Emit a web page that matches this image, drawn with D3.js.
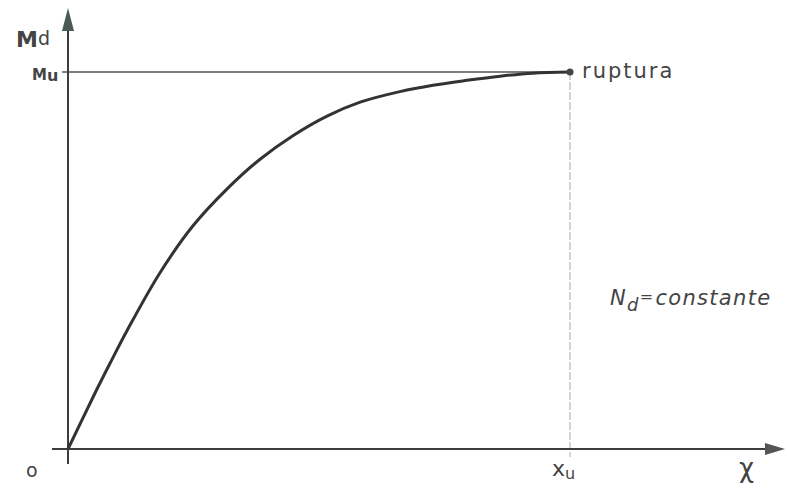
<!DOCTYPE html>
<html><head><meta charset="utf-8">
<script src="https://cdn.jsdelivr.net/npm/d3@7"></script>
<style>html,body{margin:0;padding:0;background:#fff;} svg{display:block;}</style>
</head><body>
<svg id="c" width="787" height="491"></svg>
<script>
// curvature (x / x_u) and moment (M_d / M_u)
const curvature = [0, 0.050, 0.084, 0.118, 0.183, 0.249, 0.317, 0.382, 0.448, 0.516, 0.582, 0.661, 0.727, 0.795, 0.861, 0.926, 1.0];
const moment    = [0, 0.138, 0.228, 0.315, 0.467, 0.592, 0.690, 0.768, 0.831, 0.883, 0.920, 0.948, 0.965, 0.978, 0.989, 0.997, 1.0];
const xTickLabels = ["o", "χ", "u"];
const yTickLabels = ["M", "u"];

const svg = d3.select("#c");
const x = d3.scaleLinear().domain([0, 1]).range([68, 570]);
const y = d3.scaleLinear().domain([0, 1]).range([449, 72]);
const ink = "#3d3d3d";
const font = "'DejaVu Sans', sans-serif";

// Mu horizontal line
svg.append("line").attr("x1", x(0) - 6).attr("x2", x(1)).attr("y1", y(1)).attr("y2", y(1))
  .attr("stroke", "#555").attr("stroke-width", 1.5);
// x_u vertical line
svg.append("line").attr("x1", x(1)).attr("x2", x(1)).attr("y1", y(1)).attr("y2", y(0) + 8)
  .attr("stroke", "#aaa").attr("stroke-width", 1).attr("stroke-dasharray", "8,2");

// axes
svg.append("line").attr("x1", x(0) - 16).attr("x2", 770).attr("y1", y(0)).attr("y2", y(0))
  .attr("stroke", ink).attr("stroke-width", 2);
svg.append("line").attr("x1", x(0)).attr("x2", x(0)).attr("y1", y(0) + 15).attr("y2", 25)
  .attr("stroke", ink).attr("stroke-width", 2);
// arrows
svg.append("path").attr("d", `M${x(0)},8 L${x(0)-6},31 L${x(0)+6},31 Z`).attr("fill", "#4a5a55");
svg.append("path").attr("d", `M785,${y(0)} L765,${y(0)-6} L765,${y(0)+6} Z`).attr("fill", "#555");

// curve
const pts = curvature.map((c, i) => [c, moment[i]]);
svg.append("path").datum(pts)
  .attr("d", d3.line().x(d => x(d[0])).y(d => y(d[1])).curve(d3.curveCatmullRom.alpha(0.5)))
  .attr("fill", "none").attr("stroke", "#333").attr("stroke-width", 3);
svg.append("circle").attr("cx", x(1)).attr("cy", y(1)).attr("r", 3.5).attr("fill", "#444");

// labels
const t1 = svg.append("text").attr("x", 16).attr("y", 47).attr("font-family", font).attr("font-weight", "bold")
  .attr("fill", "#444").attr("font-size", 22);
t1.append("tspan").text("M");
t1.append("tspan").attr("font-size", 19).attr("font-weight", "normal").attr("dy", -2).text("d");

const t2 = svg.append("text").attr("x", 32).attr("y", 80).attr("font-family", font).attr("font-weight", "bold")
  .attr("fill", "#444").attr("font-size", 15);
t2.append("tspan").text(yTickLabels[0]);
t2.append("tspan").attr("font-size", 16).attr("dy", 1).text(yTickLabels[1]);

svg.append("text").attr("x", 26).attr("y", 477).attr("font-family", font).attr("fill", "#444")
  .attr("font-size", 19).text(xTickLabels[0]);

const t3 = svg.append("text").attr("x", 552).attr("y", 476).attr("font-family", font).attr("fill", "#444")
  .attr("font-size", 22);
t3.append("tspan").text("x");
t3.append("tspan").attr("font-size", 16).attr("dy", 3).text(xTickLabels[2]);

svg.append("text").attr("x", 739).attr("y", 477).attr("font-family", font).attr("fill", "#444")
  .attr("font-size", 26).text("χ");

svg.append("text").attr("x", 582).attr("y", 78).attr("font-family", font).attr("fill", "#444")
  .attr("font-size", 21).attr("letter-spacing", 2).text("ruptura");

const t4 = svg.append("text").attr("x", 610).attr("y", 305).attr("font-family", font).attr("fill", "#444")
  .attr("font-size", 21).attr("font-style", "italic").attr("letter-spacing", 1.3);
t4.append("tspan").text("N");
t4.append("tspan").attr("font-size", 18).attr("dy", 6).text("d");
t4.append("tspan").attr("font-size", 16).attr("dy", -9).text("=");
t4.append("tspan").attr("font-size", 21).attr("dy", 3).attr("dx", 1).text("constante");
</script>
</body></html>
